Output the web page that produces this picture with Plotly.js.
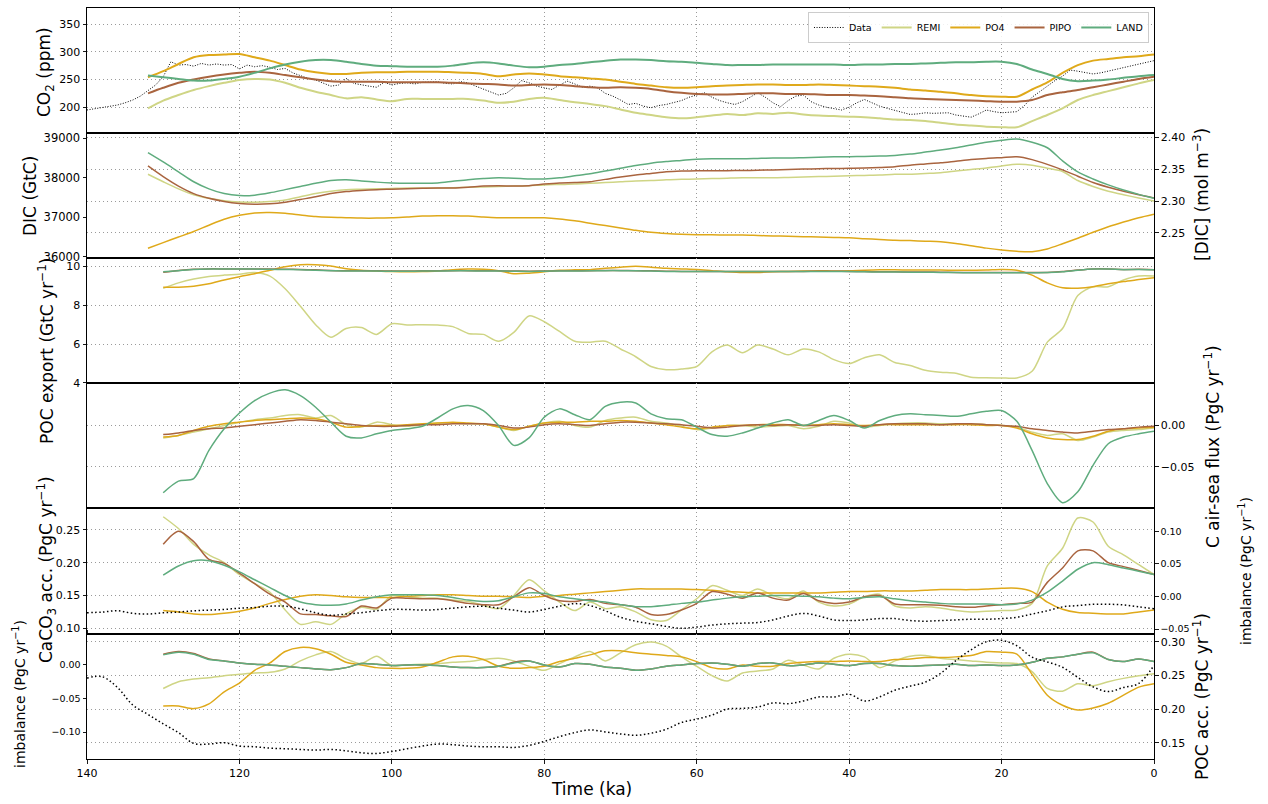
<!DOCTYPE html>
<html>
<head>
<meta charset="utf-8">
<script src="https://cdn.plot.ly/plotly-3.0.1.min.js"></script>
<style>
  html, body { margin: 0; padding: 0; background: #ffffff; }
  #chart { width: 1268px; height: 804px; }
</style>
</head>
<body>
<div id="chart"></div>
<script>
// ---------- time axes (ka) ----------
const tCO2 = [140,139,138,137,136,135,134,133,132,131,130,129,128,127,126,125,124,123,122,121,
  120,119,118,117,116,115,114,113,112,111,110,109,108,107,106,105,104,103,102,101,
  100,99,98,97,96,95,94,93,92,91,90,89,88,87,86,85,84,83,82,81,
  80,79,78,77,76,75,74,73,72,71,70,69,68,67,66,65,64,63,62,61,
  60,59,58,57,56,55,54,53,52,51,50,49,48,47,46,45,44,43,42,41,
  40,39,38,37,36,35,34,33,32,31,30,29,28,27,26,25,24,23,22,21,
  20,19,18,17,16,15,14,13,12,11,10,9,8,7,6,5,4,3,2,1,0];
const tModelA = [132,130,128,126,124,122,120,118,116,114,112,110,108,106,104,102,100,98,96,94,
  92,90,88,86,84,82,80,78,76,74,72,70,68,66,64,62,60,58,56,54,
  52,50,48,46,44,42,40,38,36,34,32,30,28,26,24,22,20,18,16,14,12,10,8,6,4,2,0];
const tModelB = [130,128,126,124,122,120,118,116,114,112,110,108,106,104,102,100,98,96,94,92,
  90,88,86,84,82,80,78,76,74,72,70,68,66,64,62,60,58,56,54,52,
  50,48,46,44,42,40,38,36,34,32,30,28,26,24,22,20,18,16,14,12,10,8,6,4,2,0];
const tRecon = [140,138,136,134,132,130,128,126,124,122,120,118,116,114,112,110,108,106,104,102,
  100,98,96,94,92,90,88,86,84,82,80,78,76,74,72,70,68,66,64,62,
  60,58,56,54,52,50,48,46,44,42,40,38,36,34,32,30,28,26,24,22,
  20,18,16,14,12,10,8,6,4,2,0];

// ---------- atmospheric CO2 (ppm) ----------
const co2Data = [195,197,199,201,204,208,213,220,230,240,
  255,282,276,277,274,279,276,278,276,277,
  269,276,273,275,272,268,270,262,257,252,
  249,244,238,240,252,243,240,238,236,245,
  240,243,244,242,245,245,246,243,242,246,
  244,238,233,228,222,225,235,248,244,238,
  235,232,240,247,242,236,238,235,225,220,
  213,205,207,202,199,203,205,208,212,218,
  222,226,218,212,208,205,210,218,226,218,
  208,201,212,220,222,210,204,200,198,195,
  200,208,214,208,202,198,194,190,187,188,
  190,189,190,190,186,184,182,188,195,192,
  190,191,192,203,218,228,238,248,256,267,
  265,262,260,262,265,268,271,275,278,281,
  284];
const co2Remi = [198,212,222,231,238,244,249,251,250,244,
  235,228,222,216,218,214,211,215,215,215,
  215,215,212,208,210,215,217,213,209,206,
  202,196,190,186,182,180,182,185,188,186,
  189,188,190,187,185,184,183,182,180,178,
  177,175,172,169,167,165,164,164,175,186,
  198,213,222,229,236,243,249];
const co2Po4 = [254,265,278,290,294,295,296,290,284,276,
  268,263,260,260,262,263,263,264,264,264,
  263,262,260,256,259,261,259,256,254,252,
  250,246,242,239,236,235,236,238,239,240,
  241,241,240,240,241,240,239,238,237,235,
  232,230,228,225,222,220,219,219,232,245,
  262,276,284,287,290,292,295];
const co2Pipo = [225,235,244,250,255,259,262,264,262,258,
  254,250,247,246,246,246,245,245,245,245,
  244,243,242,241,239,240,241,240,238,236,
  235,236,235,233,229,226,224,223,223,224,
  225,225,224,224,223,222,222,221,220,218,
  216,215,214,213,212,211,210,210,213,222,
  227,231,236,241,246,251,255];
const co2Land = [257,254,251,248,248,251,255,262,270,277,
  282,285,285,282,278,275,274,273,273,273,
  275,279,281,279,275,272,273,276,278,281,
  284,286,286,285,283,282,280,278,276,276,
  276,277,277,277,277,277,276,277,277,278,
  278,279,280,281,281,282,282,278,268,260,
  251,247,248,250,253,256,258];

// ---------- ocean DIC inventory (GtC) ----------
const dicRemi = [38090,37900,37720,37570,37480,37420,37390,37380,37400,37440,
  37520,37600,37660,37700,37710,37720,37730,37740,37740,37740,
  37750,37760,37770,37780,37790,37800,37820,37830,37840,37860,
  37880,37900,37920,37930,37950,37960,37970,37980,37990,38000,
  38000,38000,38010,38020,38030,38040,38050,38060,38070,38090,
  38090,38110,38130,38170,38210,38250,38300,38340,38320,38240,
  38160,37930,37780,37660,37570,37490,37410];
const dicPo4 = [36215,36360,36500,36640,36800,36950,37050,37110,37120,37100,
  37060,37020,37000,36990,36980,36980,36990,37010,37030,37040,
  37040,37030,37010,36990,36990,36990,36990,36960,36910,36850,
  36790,36730,36670,36620,36590,36570,36560,36560,36550,36550,
  36540,36530,36520,36510,36500,36490,36480,36460,36440,36420,
  36410,36395,36380,36340,36280,36220,36172,36140,36130,36200,
  36330,36470,36620,36760,36880,36990,37080];
const dicPipo = [38300,38030,37790,37600,37480,37400,37350,37330,37340,37380,
  37450,37520,37600,37650,37680,37700,37710,37720,37735,37740,
  37740,37760,37790,37800,37790,37800,37840,37870,37880,37900,
  37960,38020,38070,38110,38150,38170,38180,38180,38180,38185,
  38190,38200,38210,38220,38230,38235,38240,38245,38260,38280,
  38320,38350,38380,38420,38460,38490,38510,38530,38460,38340,
  38200,38040,37880,37760,37660,37570,37490];
const dicLand = [38635,38400,38150,37900,37720,37600,37550,37560,37620,37700,
  37780,37860,37930,37950,37920,37890,37870,37860,37860,37870,
  37910,37950,37980,38000,37990,37970,37970,38000,38050,38100,
  38170,38240,38310,38370,38410,38440,38470,38480,38480,38480,
  38490,38500,38500,38510,38520,38530,38535,38540,38550,38565,
  38600,38650,38700,38760,38830,38900,38950,38980,38900,38760,
  38430,38150,37970,37820,37690,37580,37480];

// ---------- POC export (GtC/yr) ----------
const pocRemi = [8.87,9.15,9.35,9.48,9.55,9.6,9.68,9.5,8.85,7.95,
  7.0,6.35,6.8,6.85,6.5,7.05,6.98,7.0,6.98,6.9,
  6.55,6.5,6.15,6.6,7.45,7.15,6.65,6.15,6.1,6.15,
  5.75,5.35,4.85,4.68,4.72,4.85,5.6,5.95,5.55,5.95,
  5.75,5.45,5.75,5.6,5.2,5.0,5.3,5.45,5.05,4.9,
  4.65,4.55,4.5,4.3,4.27,4.26,4.26,4.6,6.1,6.8,
  8.5,8.95,8.95,9.3,9.5,9.5];
const pocPo4 = [8.92,8.93,8.98,9.1,9.3,9.47,9.62,9.8,9.98,10.08,
  10.08,10.02,9.88,9.8,9.76,9.73,9.72,9.73,9.76,9.83,
  9.86,9.85,9.78,9.62,9.65,9.72,9.8,9.82,9.83,9.9,
  9.96,10.0,9.96,9.9,9.87,9.84,9.78,9.72,9.68,9.69,
  9.72,9.74,9.76,9.78,9.76,9.77,9.8,9.82,9.82,9.81,
  9.81,9.81,9.8,9.8,9.81,9.84,9.8,9.55,9.15,8.9,
  8.88,8.95,9.1,9.22,9.32,9.42];
const pocPipo = [9.7,9.79,9.85,9.87,9.87,9.87,9.87,9.86,9.85,9.84,
  9.82,9.79,9.77,9.77,9.77,9.76,9.76,9.77,9.77,9.78,
  9.78,9.77,9.77,9.76,9.75,9.76,9.77,9.77,9.78,9.79,
  9.79,9.78,9.77,9.75,9.74,9.74,9.74,9.74,9.74,9.74,
  9.74,9.74,9.74,9.75,9.75,9.74,9.73,9.72,9.72,9.71,
  9.71,9.7,9.69,9.68,9.68,9.68,9.68,9.68,9.69,9.73,
  9.81,9.87,9.87,9.84,9.85,9.83];
const pocLand = [9.72,9.78,9.84,9.86,9.86,9.86,9.86,9.85,9.84,9.83,
  9.8,9.78,9.76,9.76,9.76,9.75,9.75,9.76,9.76,9.77,
  9.77,9.76,9.76,9.75,9.74,9.75,9.76,9.76,9.77,9.78,
  9.78,9.77,9.76,9.74,9.73,9.73,9.73,9.73,9.73,9.73,
  9.73,9.73,9.73,9.74,9.74,9.73,9.72,9.71,9.71,9.7,
  9.7,9.69,9.68,9.67,9.67,9.67,9.67,9.67,9.68,9.72,
  9.8,9.86,9.86,9.83,9.84,9.82];

// ---------- air-sea carbon flux (PgC/yr) ----------
const fluxRemi = [-0.015,-0.012,-0.008,-0.004,0.0,0.004,0.007,0.009,0.012,0.013,
  0.009,0.012,0.001,-0.002,0.004,0.001,-0.001,0.001,0.003,0.003,
  0.002,0.002,-0.002,-0.006,-0.001,0.003,0.005,0.0,-0.002,0.006,
  0.009,0.01,0.005,0.003,-0.001,-0.005,-0.003,0.0,0.0,-0.002,
  -0.001,0.0,-0.004,-0.001,0.005,0.003,-0.002,0.0,0.002,0.003,
  0.003,0.002,0.002,0.002,0.001,0.0,-0.002,-0.008,-0.012,-0.01,
  -0.018,-0.014,-0.008,-0.006,-0.005,-0.003];
const fluxPo4 = [-0.014,-0.012,-0.006,-0.001,0.002,0.004,0.006,0.007,0.008,0.009,
  0.008,0.004,-0.002,-0.001,0.0,0.0,0.001,0.002,0.003,0.004,
  0.003,0.002,-0.002,-0.005,-0.001,0.003,0.004,0.004,0.005,0.005,
  0.006,0.005,0.003,0.001,-0.002,-0.004,-0.002,0.0,0.0,0.001,
  0.001,0.001,0.0,0.001,0.002,0.001,0.0,0.001,0.001,0.001,
  0.001,0.001,0.001,0.001,0.0,0.0,-0.003,-0.01,-0.015,-0.017,
  -0.017,-0.013,-0.007,-0.004,-0.003,-0.002];
const fluxPipo = [-0.011,-0.009,-0.006,-0.004,-0.003,-0.001,0.001,0.003,0.005,0.007,
  0.006,0.004,0.002,0.0,-0.001,-0.001,0.0,0.001,0.001,0.002,
  0.002,0.002,0.0,-0.003,-0.002,0.001,0.002,0.001,0.0,0.002,
  0.004,0.004,0.003,0.002,0.001,-0.001,-0.003,-0.002,0.0,0.001,
  0.0,0.001,0.0,0.0,0.001,0.0,-0.001,0.001,0.002,0.002,
  0.002,0.001,0.002,0.002,0.001,0.0,-0.001,-0.004,-0.006,-0.008,
  -0.009,-0.007,-0.005,-0.004,-0.002,-0.001];
const fluxLand = [-0.081,-0.067,-0.064,-0.03,-0.004,0.015,0.03,0.039,0.043,0.036,
  0.022,0.004,-0.013,-0.015,-0.01,-0.006,-0.004,-0.001,0.009,0.02,
  0.024,0.018,0.0,-0.024,-0.015,0.01,0.02,0.013,0.007,0.023,
  0.028,0.027,0.014,0.008,0.007,-0.002,-0.011,-0.013,-0.009,-0.003,
  0.003,0.007,0.0,0.006,0.012,0.006,-0.003,0.006,0.012,0.014,
  0.013,0.012,0.011,0.014,0.017,0.018,0.005,-0.03,-0.07,-0.093,
  -0.08,-0.048,-0.022,-0.014,-0.01,-0.007];

// ---------- CaCO3 accumulation (PgC/yr) ----------
const caco3Remi = [0.27,0.252,0.228,0.212,0.2,0.182,0.168,0.155,0.128,0.106,
  0.11,0.106,0.122,0.132,0.129,0.15,0.148,0.146,0.146,0.143,
  0.141,0.135,0.13,0.15,0.174,0.157,0.14,0.127,0.14,0.13,
  0.133,0.125,0.113,0.112,0.128,0.145,0.165,0.158,0.15,0.16,
  0.15,0.145,0.157,0.14,0.134,0.137,0.148,0.152,0.134,0.131,
  0.133,0.131,0.127,0.125,0.126,0.127,0.128,0.138,0.195,0.222,
  0.268,0.262,0.225,0.212,0.197,0.182];
const caco3Po4 = [0.127,0.125,0.122,0.121,0.123,0.126,0.131,0.138,0.144,0.149,
  0.151,0.15,0.148,0.147,0.147,0.147,0.149,0.15,0.151,0.151,
  0.15,0.149,0.149,0.148,0.147,0.149,0.15,0.152,0.154,0.156,
  0.158,0.16,0.16,0.16,0.16,0.159,0.158,0.156,0.155,0.154,
  0.154,0.154,0.154,0.154,0.155,0.156,0.156,0.157,0.157,0.157,
  0.158,0.159,0.159,0.159,0.16,0.161,0.161,0.156,0.14,0.129,
  0.124,0.123,0.122,0.122,0.125,0.128];
const caco3Pipo = [0.228,0.248,0.232,0.205,0.199,0.184,0.168,0.152,0.14,0.122,
  0.121,0.119,0.118,0.134,0.131,0.146,0.146,0.145,0.145,0.142,
  0.138,0.136,0.136,0.148,0.162,0.15,0.142,0.141,0.144,0.138,
  0.136,0.132,0.121,0.121,0.128,0.138,0.156,0.152,0.146,0.154,
  0.146,0.143,0.153,0.142,0.138,0.14,0.148,0.15,0.137,0.136,
  0.136,0.135,0.133,0.132,0.134,0.136,0.138,0.14,0.17,0.192,
  0.218,0.218,0.2,0.194,0.188,0.182];
const caco3Land = [0.181,0.195,0.203,0.203,0.196,0.186,0.174,0.162,0.15,0.14,
  0.136,0.135,0.137,0.143,0.148,0.151,0.151,0.151,0.15,0.147,
  0.143,0.141,0.142,0.148,0.154,0.153,0.148,0.145,0.142,0.14,
  0.136,0.133,0.133,0.135,0.138,0.14,0.143,0.146,0.148,0.149,
  0.15,0.15,0.149,0.148,0.146,0.145,0.147,0.148,0.145,0.142,
  0.14,0.138,0.137,0.137,0.137,0.136,0.137,0.143,0.155,0.172,
  0.19,0.2,0.197,0.192,0.187,0.182];

// ---------- carbon imbalance (PgC/yr) ----------
const imbRemi = [-0.035,-0.025,-0.021,-0.019,-0.016,-0.014,-0.012,-0.011,-0.006,0.006,
  0.015,0.02,0.009,0.002,0.013,-0.001,0.0,0.001,0.002,0.004,
  0.005,0.008,0.01,0.006,-0.002,-0.008,0.002,0.012,0.02,0.006,
  0.018,0.03,0.034,0.028,0.012,-0.002,-0.016,-0.024,-0.012,-0.009,
  -0.006,0.007,0.0,-0.006,0.01,0.016,0.012,-0.004,0.006,0.013,
  0.014,0.01,0.008,0.006,0.004,0.003,0.002,-0.01,-0.035,-0.039,
  -0.028,-0.031,-0.025,-0.02,-0.016,-0.013];
const imbPo4 = [-0.061,-0.061,-0.065,-0.058,-0.04,-0.027,-0.008,0.003,0.02,0.026,
  0.024,0.016,0.004,0.0,-0.004,-0.005,-0.005,-0.003,0.004,0.012,
  0.013,0.008,-0.002,-0.005,-0.004,-0.002,0.005,0.01,0.015,0.021,
  0.021,0.018,0.016,0.014,0.012,0.005,-0.004,-0.006,0.0,-0.002,
  -0.002,0.002,0.004,0.005,0.005,0.006,0.005,0.005,0.008,0.009,
  0.011,0.011,0.012,0.014,0.02,0.019,0.016,-0.014,-0.045,-0.06,
  -0.067,-0.064,-0.057,-0.045,-0.033,-0.028];
const imbPipo = [0.016,0.02,0.017,0.009,0.006,0.003,0.001,0.0,-0.002,-0.004,
  -0.006,-0.007,-0.004,0.002,0.001,-0.001,0.0,0.0,-0.001,-0.003,
  -0.004,-0.004,-0.002,0.004,0.006,0.0,-0.003,0.002,0.001,-0.003,
  -0.005,-0.008,-0.006,-0.002,0.0,0.002,0.003,0.001,-0.002,0.002,
  0.003,-0.001,0.0,0.003,0.001,-0.001,0.002,0.002,-0.001,-0.002,
  -0.001,0.0,0.001,-0.001,0.0,-0.001,0.0,0.004,0.01,0.012,
  0.016,0.019,0.008,0.005,0.009,0.005];
const imbLand = [0.015,0.019,0.016,0.008,0.006,0.003,0.001,0.0,-0.002,-0.004,
  -0.006,-0.007,-0.004,0.002,0.001,-0.001,0.0,0.0,-0.001,-0.003,
  -0.004,-0.004,-0.002,0.003,0.006,0.0,-0.003,0.002,0.001,-0.003,
  -0.005,-0.008,-0.006,-0.002,0.0,0.002,0.003,0.001,-0.002,0.002,
  0.003,-0.001,0.0,0.003,0.001,-0.001,0.002,0.002,-0.001,-0.002,
  -0.001,0.0,0.001,-0.001,0.0,-0.001,0.0,0.004,0.01,0.012,
  0.016,0.018,0.008,0.005,0.009,0.005];

// ---------- reconstructions (dotted) ----------
const imbData = [-0.025,-0.024,-0.022,-0.026,-0.027,-0.025,-0.024,-0.022,-0.021,-0.02,
  -0.018,-0.017,-0.015,-0.015,-0.019,-0.025,-0.029,-0.027,-0.025,-0.022,
  -0.02,-0.02,-0.021,-0.02,-0.018,-0.016,-0.015,-0.018,-0.021,-0.024,
  -0.02,-0.015,-0.011,-0.014,-0.022,-0.032,-0.038,-0.042,-0.046,-0.049,
  -0.047,-0.044,-0.042,-0.041,-0.04,-0.036,-0.03,-0.026,-0.03,-0.036,
  -0.037,-0.036,-0.034,-0.034,-0.037,-0.038,-0.037,-0.036,-0.035,-0.035,
  -0.034,-0.032,-0.027,-0.022,-0.016,-0.014,-0.012,-0.012,-0.013,-0.016,
  -0.019];
const pocAccData = [0.246,0.248,0.232,0.206,0.192,0.178,0.165,0.149,0.148,0.15,
  0.145,0.144,0.142,0.141,0.14,0.139,0.14,0.138,0.135,0.134,
  0.137,0.141,0.145,0.148,0.147,0.145,0.144,0.144,0.143,0.146,
  0.152,0.159,0.165,0.169,0.166,0.163,0.161,0.164,0.17,0.18,
  0.185,0.191,0.2,0.201,0.203,0.209,0.208,0.212,0.218,0.218,
  0.222,0.212,0.218,0.228,0.234,0.24,0.253,0.272,0.288,0.3,
  0.302,0.294,0.277,0.27,0.262,0.247,0.233,0.226,0.232,0.238,
  0.265];

const modelNames = ['REMI', 'PO4', 'PIPO', 'LAND'];
const modelColors = { REMI: '#cfd585', PO4: '#dfa91a', PIPO: '#a9643f', LAND: '#5fac7e' };

function modelLines(t, series, yaxis, width, inLegend) {
  return modelNames.map((name, i) => ({
    type: 'scatter', mode: 'lines', x: t, y: series[i], name: name,
    xaxis: 'x', yaxis: yaxis, legendgroup: name, showlegend: inLegend,
    line: { color: modelColors[name], width: width, shape: 'spline', smoothing: 0.8 },
    hoverinfo: 'skip'
  }));
}

const traces = [];
traces.push({
  type: 'scatter', mode: 'lines', x: tCO2, y: co2Data, name: 'Data', xaxis: 'x', yaxis: 'y',
  line: { color: '#000000', width: 1, dash: '1px,1.6px' }, hoverinfo: 'skip'
});
traces.push(...modelLines(tModelA, [co2Remi, co2Po4, co2Pipo, co2Land], 'y', 2, true));
traces.push(...modelLines(tModelA, [dicRemi, dicPo4, dicPipo, dicLand], 'y2', 1.5, false));
traces.push({ type: 'scatter', mode: 'lines', x: [null], y: [null], xaxis: 'x', yaxis: 'y7',
  showlegend: false, hoverinfo: 'skip' });
traces.push(...modelLines(tModelB, [pocRemi, pocPo4, pocPipo, pocLand], 'y3', 1.5, false));
traces.push(...modelLines(tModelB, [fluxRemi, fluxPo4, fluxPipo, fluxLand], 'y4', 1.5, false));
traces.push({
  type: 'scatter', mode: 'lines', x: tRecon, y: imbData, xaxis: 'x', yaxis: 'y8', showlegend: false,
  line: { color: '#000000', width: 1.5, dash: '1.5px,2.5px', shape: 'spline' }, hoverinfo: 'skip'
});
traces.push(...modelLines(tModelB, [caco3Remi, caco3Po4, caco3Pipo, caco3Land], 'y5', 1.5, false));
traces.push({
  type: 'scatter', mode: 'lines', x: tRecon, y: pocAccData, xaxis: 'x', yaxis: 'y9', showlegend: false,
  line: { color: '#000000', width: 1.5, dash: '1.5px,2.5px', shape: 'spline' }, hoverinfo: 'skip'
});
traces.push(...modelLines(tModelB, [imbRemi, imbPo4, imbPipo, imbLand], 'y6', 1.5, false));

const frame = {
  showline: true, linecolor: '#000000', linewidth: 1, mirror: true,
  ticks: 'outside', ticklen: 3.5, tickwidth: 0.9, tickcolor: '#000000',
  zeroline: false, showgrid: false, tickfont: { size: 11, color: '#000000' }, fixedrange: true
};
const grid = { showgrid: true, gridcolor: '#9a9a9a', gridwidth: 1, griddash: '1px,3px' };

function title(text, px, py, size) {
  return {
    text: text, xref: 'paper', yref: 'paper', x: (px - 87) / 1067, y: (759 - py) / 751,
    xanchor: 'center', yanchor: 'middle', textangle: -90, showarrow: false,
    font: { size: size, color: '#000000' }
  };
}

const layout = {
  width: 1268, height: 804,
  margin: { l: 87, r: 114, t: 8, b: 45 },
  paper_bgcolor: '#ffffff', plot_bgcolor: '#ffffff',
  font: { family: 'DejaVu Sans, sans-serif', color: '#000000' },
  showlegend: true,
  legend: {
    orientation: 'h', x: 0.9953, xanchor: 'right', y: 0.9947, yanchor: 'top',
    bgcolor: 'rgba(255,255,255,0.85)', bordercolor: '#cccccc', borderwidth: 1,
    font: { size: 9.5 }, traceorder: 'normal'
  },
  xaxis: Object.assign({}, frame, grid, {
    domain: [0, 1], anchor: 'y6', range: [140, 0], mirror: 'all',
    tickvals: [140, 120, 100, 80, 60, 40, 20, 0], tickformat: 'd',
    tickfont: { size: 11 }
  }),
  yaxis: Object.assign({}, frame, grid, {
    domain: [0.8336, 1], anchor: 'x', range: [153.6, 378.9], tickvals: [200, 250, 300, 350], tickformat: 'd'
  }),
  yaxis2: Object.assign({}, frame, {
    domain: [0.6671, 0.8336], anchor: 'x', range: [35970, 39134],
    tickvals: [36000, 37000, 38000, 39000], tickformat: 'd', tickfont: { size: 11.5 }
  }),
  yaxis7: Object.assign({}, frame, grid, {
    overlaying: 'y2', side: 'right', anchor: 'x', range: [2.2108, 2.4067],
    tickvals: [2.25, 2.30, 2.35, 2.40], tickformat: '.2f'
  }),
  yaxis3: Object.assign({}, frame, grid, {
    domain: [0.5007, 0.6671], anchor: 'x', range: [4, 10.43], tickvals: [4, 6, 8, 10], tickformat: 'd'
  }),
  yaxis4: Object.assign({}, frame, grid, {
    domain: [0.3336, 0.5007], anchor: 'x', side: 'right', range: [-0.1, 0.0512],
    tickvals: [-0.05, 0], tickformat: '.2f'
  }),
  yaxis5: Object.assign({}, frame, grid, {
    domain: [0.1664, 0.3336], anchor: 'x', range: [0.0913, 0.2826],
    tickvals: [0.10, 0.15, 0.20, 0.25], tickformat: '.2f'
  }),
  yaxis8: Object.assign({}, frame, {
    overlaying: 'y5', side: 'right', anchor: 'x', range: [-0.0577, 0.135],
    tickvals: [-0.05, 0, 0.05, 0.10], tickformat: '.2f', tickfont: { size: 9.5 }
  }),
  yaxis6: Object.assign({}, frame, {
    domain: [0, 0.1664], anchor: 'x', range: [-0.140, 0.046],
    tickvals: [-0.10, -0.05, 0], tickformat: '.2f', tickfont: { size: 9.5 }
  }),
  yaxis9: Object.assign({}, frame, grid, {
    overlaying: 'y6', side: 'right', anchor: 'x', range: [0.1258, 0.3114],
    tickvals: [0.15, 0.20, 0.25, 0.30], tickformat: '.2f'
  }),
  annotations: [
    title('CO<sub>2</sub> (ppm)', 45, 72, 17),
    title('DIC (GtC)', 30, 196, 17),
    title('POC export (GtC yr<sup>\u22121</sup>)', 46, 351, 17),
    title('CaCO<sub>3</sub> acc. (PgC yr<sup>\u22121</sup>)', 46, 570, 17),
    title('imbalance (PgC yr<sup>\u22121</sup>)', 19, 694, 14),
    title('[DIC] (mol m<sup>\u22123</sup>)', 1201, 195, 17),
    title('C air-sea flux (PgC yr<sup>\u22121</sup>)', 1212, 447, 17),
    title('imbalance (PgC yr<sup>\u22121</sup>)', 1245, 571, 14),
    title('POC acc. (PgC yr<sup>\u22121</sup>)', 1201, 697, 17),
    {
      text: 'Time (ka)', xref: 'paper', yref: 'paper', x: (591 - 87) / 1067, y: (759 - 789) / 751,
      xanchor: 'center', yanchor: 'middle', showarrow: false, font: { size: 17, color: '#000000' }
    }
  ]
};

Plotly.newPlot('chart', traces, layout, { displayModeBar: false, staticPlot: true });
</script>
</body>
</html>
